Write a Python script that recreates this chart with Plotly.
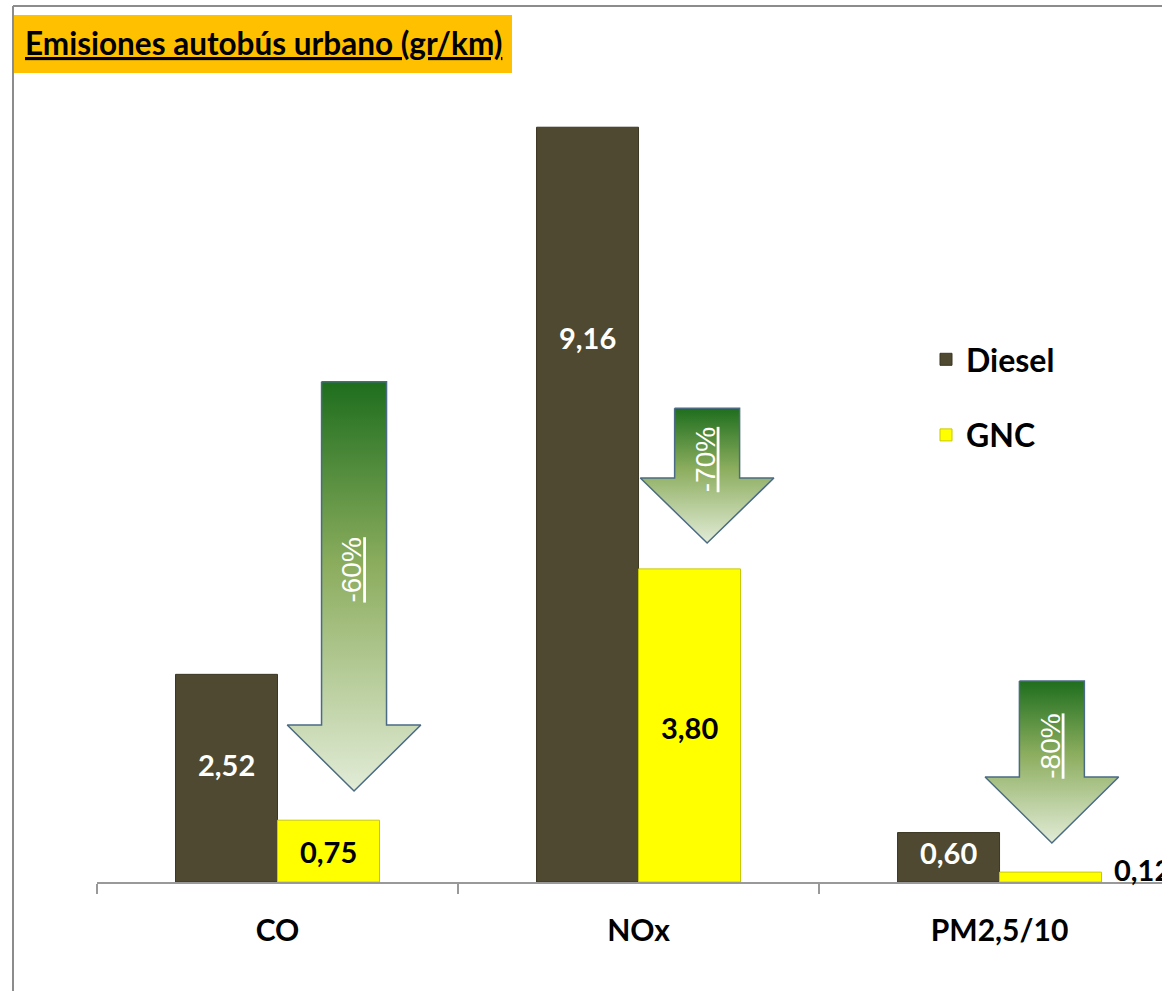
import plotly.graph_objects as go

# --- Datos ---
categorias = ['CO', 'NOx', 'PM2,5/10']
diesel = [2.52, 9.16, 0.60]
gnc = [0.75, 3.80, 0.12]
reducciones = ['-60%', '-70%', '-80%']

# altura (gr/km) donde va cada etiqueta de valor
etiq_diesel_y = [1.42, 6.61, 0.36]
etiq_gnc_y = [0.37, 1.88, 0.15]

# flechas: centro x (indice de categoria), arriba, inicio de la punta, punta, altura del texto
flechas = [
    dict(cx=0.212, arriba=6.07, cuello=1.905, punta=1.104, texto_y=3.79),
    dict(cx=1.190, arriba=5.75, cuello=4.903, punta=4.114, texto_y=5.13),
    dict(cx=2.145, arriba=2.44, cuello=1.274, punta=0.473, texto_y=1.65),
]

COLOR_DIESEL = '#4e4930'
COLOR_GNC = '#ffff00'
FUENTE = 'Lato'
ANCHO_BARRA = 0.2825


# pixeles -> coordenadas paper (area de grafico 97..1162 x 58..882)
def px(x):
    return (x - 97) / 1065


def py(y):
    return (882 - y) / 824


fig = go.Figure()

fig.add_trace(go.Bar(
    x=list(range(len(categorias))), y=diesel, name='Diesel',
    marker=dict(color=COLOR_DIESEL, line=dict(color='#3a3622', width=1)),
    legendgroup='d', hoverinfo='y'
))
fig.add_trace(go.Bar(
    x=list(range(len(categorias))), y=gnc, name='GNC',
    marker=dict(color=COLOR_GNC, line=dict(color='#c9c900', width=1)),
    legendgroup='g', hoverinfo='y'
))

# --- Flechas con degradado ---
medio_ancho = 0.09
medio_punta = 0.185
for f in flechas:
    c = f['cx']
    xs = [c - medio_ancho, c + medio_ancho, c + medio_ancho, c + medio_punta, c,
          c - medio_punta, c - medio_ancho, c - medio_ancho]
    ys = [f['arriba'], f['arriba'], f['cuello'], f['cuello'], f['punta'],
          f['cuello'], f['cuello'], f['arriba']]
    fig.add_trace(go.Scatter(
        x=xs, y=ys, mode='lines', fill='toself',
        line=dict(color='#4b6b84', width=1.5),
        fillgradient=dict(type='vertical', start=f['arriba'], stop=f['punta'],
                          colorscale=[[0, '#1e6e1e'], [0.45, '#8cad5e'], [1, '#e2ecd7']]),
        showlegend=False, hoverinfo='skip'
    ))

anotaciones = []

# textos de reduccion
for f, r in zip(flechas, reducciones):
    anotaciones.append(dict(
        x=f['cx'] - 0.006, y=f['texto_y'], xref='x', yref='y',
        text=f'<u>{r}</u>', textangle=-90, showarrow=False,
        font=dict(family='Liberation Sans', size=28, color='white')
    ))


def fmt(v):
    return f'{v:.2f}'.replace('.', ',')


# etiquetas de valor
for i in range(len(categorias)):
    anotaciones.append(dict(
        x=i - ANCHO_BARRA / 2, y=etiq_diesel_y[i], xref='x', yref='y',
        text=fmt(diesel[i]), showarrow=False,
        font=dict(family=FUENTE, size=29, color='white', weight='bold')
    ))
    if gnc[i] > 0.5:
        anotaciones.append(dict(
            x=i + ANCHO_BARRA / 2, y=etiq_gnc_y[i], xref='x', yref='y',
            text=fmt(gnc[i]), showarrow=False,
            font=dict(family=FUENTE, size=29, color='black', weight='bold')
        ))
    else:
        anotaciones.append(dict(
            x=i + ANCHO_BARRA + 0.03, y=etiq_gnc_y[i], xref='x', yref='y',
            text=fmt(gnc[i]), showarrow=False, xanchor='left',
            font=dict(family=FUENTE, size=29, color='black', weight='bold')
        ))

# titulo
anotaciones.append(dict(
    x=px(23), y=py(43), xref='paper', yref='paper', xanchor='left', yanchor='middle',
    text='<u>Emisiones autobús urbano (gr/km)</u>', showarrow=False,
    font=dict(family=FUENTE, size=31.5, color='black', weight='bold')
))

formas = [
    dict(type='rect', xref='paper', yref='paper', x0=px(14), x1=px(512), y0=py(73), y1=py(15),
         fillcolor='#ffc000', line=dict(width=0), layer='below'),
    dict(type='line', xref='paper', yref='paper', x0=px(13), x1=px(13), y0=py(6), y1=py(1000),
         line=dict(color='#8c8c8c', width=2)),
    dict(type='line', xref='paper', yref='paper', x0=px(13), x1=px(1200), y0=py(6), y1=py(6),
         line=dict(color='#8c8c8c', width=2)),
]

fig.update_xaxes(
    range=[-0.5, 2.45], tickvals=list(range(len(categorias))), ticktext=categorias,
    ticks='', showline=True, linecolor='#999999', linewidth=1.5, showgrid=False,
    zeroline=False, automargin=False, ticklabelstandoff=21,
    tickfont=dict(family=FUENTE, size=30, color='black', weight='bold'),
    minor=dict(tickvals=[-0.5, 0.5, 1.5, 2.5], ticks='outside', ticklen=10,
               tickcolor='#999999', tickwidth=1.5, showgrid=False)
)
fig.update_yaxes(range=[0, 10], visible=False, showgrid=False, zeroline=False)

fig.update_layout(
    width=1162, height=991,
    margin=dict(l=97, r=0, t=58, b=109),
    paper_bgcolor='white', plot_bgcolor='white',
    barmode='group', bargap=0.435, bargroupgap=0,
    showlegend=True,
    legend=dict(x=px(926), y=py(332), xanchor='left', yanchor='top',
                traceorder='grouped', tracegroupgap=31,
                font=dict(family=FUENTE, size=32, color='black', weight='bold'),
                bgcolor='rgba(0,0,0,0)'),
    annotations=anotaciones,
    shapes=formas,
)

# sin margen del body para que el grafico empiece en (0, 0)
fig.write_html('out.html', config={'displayModeBar': False},
               post_script="document.body.style.margin='0';")
